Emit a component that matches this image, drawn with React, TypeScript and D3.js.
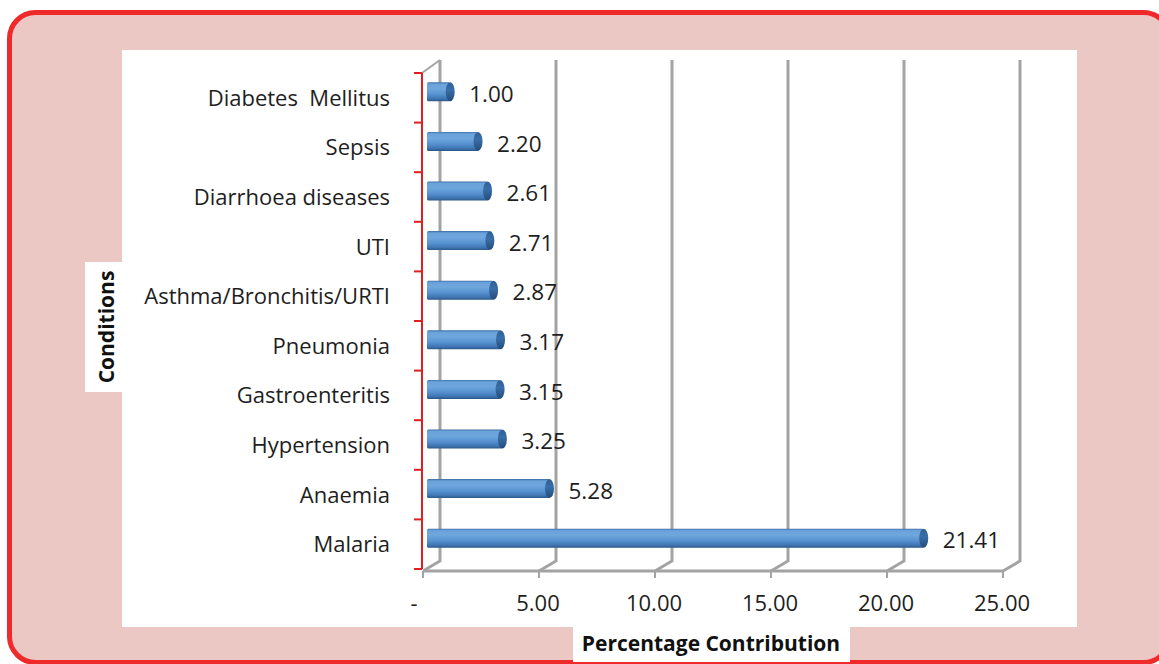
import React from "react";
import * as d3 from "d3";

const categories = [
  "Diabetes  Mellitus",
  "Sepsis",
  "Diarrhoea diseases",
  "UTI",
  "Asthma/Bronchitis/URTI",
  "Pneumonia",
  "Gastroenteritis",
  "Hypertension",
  "Anaemia",
  "Malaria",
];
const values = [1.0, 2.2, 2.61, 2.71, 2.87, 3.17, 3.15, 3.25, 5.28, 21.41];
const ticks = [0, 5, 10, 15, 20, 25];
const tickLabels = ["-", "5.00", "10.00", "15.00", "20.00", "25.00"];
const xTitle = "Percentage Contribution";
const yTitle = "Conditions";

const W = 1159;
const H = 664;
const FONT = "'Open Sans', 'DejaVu Sans', sans-serif";

export default function App() {
  const x = d3.scaleLinear().domain([0, 25]).range([423, 1003]);
  const y = d3.scaleBand<string>().domain(categories).range([73, 569]).padding(0);
  const dx = 17;
  const dy = -10;
  const frontY = 571;
  const topY = 73;
  const barH = 19;
  const grid = "#a3a3a3";

  const boundaries = d3.range(categories.length + 1).map((i) => 73 + i * y.step());

  return (
    <svg
      width={W}
      height={H}
      style={{ position: "absolute", left: 0, top: 0, display: "block" }}
      fontFamily={FONT}
    >
      <defs>
        <linearGradient id="barGrad" x1="0" y1="0" x2="0" y2="1">
          <stop offset="0" stopColor="#3d6ea6" />
          <stop offset="0.1" stopColor="#6aa2da" />
          <stop offset="0.35" stopColor="#6ea6dd" />
          <stop offset="0.65" stopColor="#5590cf" />
          <stop offset="0.88" stopColor="#3d73b0" />
          <stop offset="1" stopColor="#2b5686" />
        </linearGradient>
        <linearGradient id="capGrad" x1="0" y1="0" x2="0" y2="1">
          <stop offset="0" stopColor="#2f5f94" />
          <stop offset="0.4" stopColor="#3a6ea8" />
          <stop offset="1" stopColor="#244c7a" />
        </linearGradient>
      </defs>
      {/* outer panel */}
      <rect x={9.5} y={12.5} width={1160} height={650} rx={26} ry={26} fill="#ecc8c5" stroke="#ee2a2a" strokeWidth={5} />
      {/* white plot area */}
      <rect x={122} y={50} width={955} height={577} fill="#ffffff" />
      <rect x={85} y={262} width={37} height={130} fill="#ffffff" />
      <rect x={573} y={627} width={277} height={35} fill="#ffffff" />

      {/* back wall gridlines */}
      {ticks.map((t) => (
        <polyline
          key={"g" + t}
          points={`${x(t) + dx},${topY + dy - 3} ${x(t) + dx},${frontY + dy} ${x(t)},${frontY}`}
          fill="none"
          stroke={grid}
          strokeWidth={3}
        />
      ))}
      {/* top-left diagonal */}
      <line x1={x(0) - 1} y1={topY} x2={x(0) + dx} y2={topY + dy - 3} stroke={grid} strokeWidth={2} />
      {/* front x axis */}
      <line x1={x(0)} y1={frontY} x2={x(25)} y2={frontY} stroke={grid} strokeWidth={3} />
      {ticks.map((t) => (
        <line key={"t" + t} x1={x(t)} y1={frontY} x2={x(t)} y2={frontY + 7} stroke={grid} strokeWidth={2} />
      ))}

      {/* red vertical axis */}
      <line x1={422} y1={topY} x2={422} y2={569} stroke="#e02020" strokeWidth={2} />
      {boundaries.map((b, i) => (
        <line key={"r" + i} x1={414} y1={b} x2={422} y2={b} stroke="#e02020" strokeWidth={2} />
      ))}

      {/* bars */}
      {categories.map((c, i) => {
        const cy = (y(c) as number) + y.bandwidth() / 2 - 6;
        const x0 = x(0) + 4;
        const xe = x(values[i]) + 4;
        return (
          <g key={c}>
            <rect x={x0} y={cy - barH / 2} width={xe - x0} height={barH} fill="url(#barGrad)" rx={1.5} />
            <ellipse cx={xe} cy={cy} rx={4.5} ry={barH / 2} fill="url(#capGrad)" />
            <text x={xe + 19} y={cy + 2} dy="0.36em" fontSize={22.5} fill="#1e1e1e">
              {values[i].toFixed(2)}
            </text>
          </g>
        );
      })}

      {/* category labels */}
      {categories.map((c) => (
        <text
          key={"l" + c}
          x={390}
          y={(y(c) as number) + y.bandwidth() / 2}
          dy="0.36em"
          textAnchor="end"
          fontSize={22}
          fill="#1e1e1e"
          style={{ whiteSpace: "pre" }}
        >
          {c}
        </text>
      ))}

      {/* tick labels */}
      {ticks.map((t, i) => (
        <text
          key={"tl" + t}
          x={i === 0 ? x(t) - 9 : x(t) - 1}
          y={611}
          textAnchor="middle"
          fontSize={22}
          fill="#1e1e1e"
        >
          {tickLabels[i]}
        </text>
      ))}

      {/* titles */}
      <text x={711} y={651} textAnchor="middle" fontSize={21} fontWeight="bold" fill="#111">
        {xTitle}
      </text>
      <text
        transform="translate(114,327) rotate(-90)"
        textAnchor="middle"
        fontSize={21}
        fontWeight="bold"
        fill="#111"
      >
        {yTitle}
      </text>
    </svg>
  );
}
